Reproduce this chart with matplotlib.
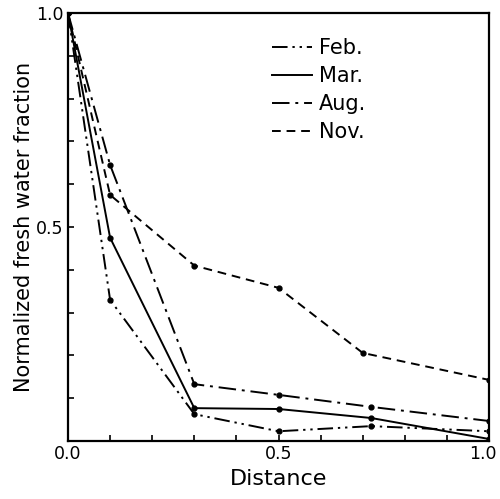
import matplotlib
matplotlib.use("Agg")
import matplotlib.pyplot as plt
from matplotlib.transforms import ScaledTranslation

distance = [0.0, 0.1, 0.3, 0.5, 0.72, 1.0]
feb = [1.0, 0.33, 0.063, 0.023, 0.035, 0.023]
mar = [1.0, 0.475, 0.077, 0.075, 0.054, 0.005]
aug = [1.0, 0.645, 0.133, 0.108, 0.080, 0.047]
nov_x = [0.0, 0.1, 0.3, 0.5, 0.7, 1.0]
nov = [1.0, 0.575, 0.41, 0.358, 0.206, 0.143]
labels = ["Feb.", "Mar.", "Aug.", "Nov."]
xtick_labels = ["0.0", "0.5", "1.0"]
ytick_labels = ["", "0.5", "1.0"]

fig = plt.figure(figsize=(5.0, 4.99), dpi=100)
ax = fig.add_axes([0.136, 0.116, 0.842, 0.858])

kw = dict(color="black", lw=1.4, marker="o", ms=3.5)
ax.plot(distance, feb, ls=(0, (8, 2.5, 1.2, 2.5, 1.2, 2.5)), label=labels[0], **kw)
ax.plot(distance, mar, ls="-", label=labels[1], **kw)
ax.plot(distance, aug, ls=(0, (9, 3, 1.5, 3)), label=labels[2], **kw)
ax.plot(nov_x, nov, ls=(0, (4.5, 3)), label=labels[3], **kw)

ax.set_xlim(0, 1.0)
ax.set_ylim(0, 1.0)
ax.set_xticks([0.0, 0.5, 1.0])
ax.set_xticklabels(xtick_labels)
ax.set_yticks([0.0, 0.5, 1.0])
ax.set_yticklabels(ytick_labels)
minor = [0.1, 0.2, 0.3, 0.4, 0.6, 0.7, 0.8, 0.9]
ax.set_xticks(minor, minor=True)
ax.set_yticks(minor, minor=True)
ax.tick_params(which="both", direction="in", length=4, width=1.2, labelsize=12.5, pad=3)
for s in ax.spines.values():
    s.set_linewidth(1.6)
ax.set_xlabel("Distance", fontsize=16, labelpad=4)
ax.set_ylabel("Normalized fresh water fraction", fontsize=15, labelpad=2)

last = ax.get_xticklabels()[-1]
last.set_transform(last.get_transform() + ScaledTranslation(-6 / 100, 0, fig.dpi_scale_trans))

leg = ax.legend(loc="upper left", bbox_to_anchor=(0.44, 0.985), frameon=False,
                fontsize=15, handlelength=1.9, handletextpad=0.35, labelspacing=0.38)
for h in leg.legend_handles:
    h.set_marker("")

fig.savefig("out.png", dpi=100)
